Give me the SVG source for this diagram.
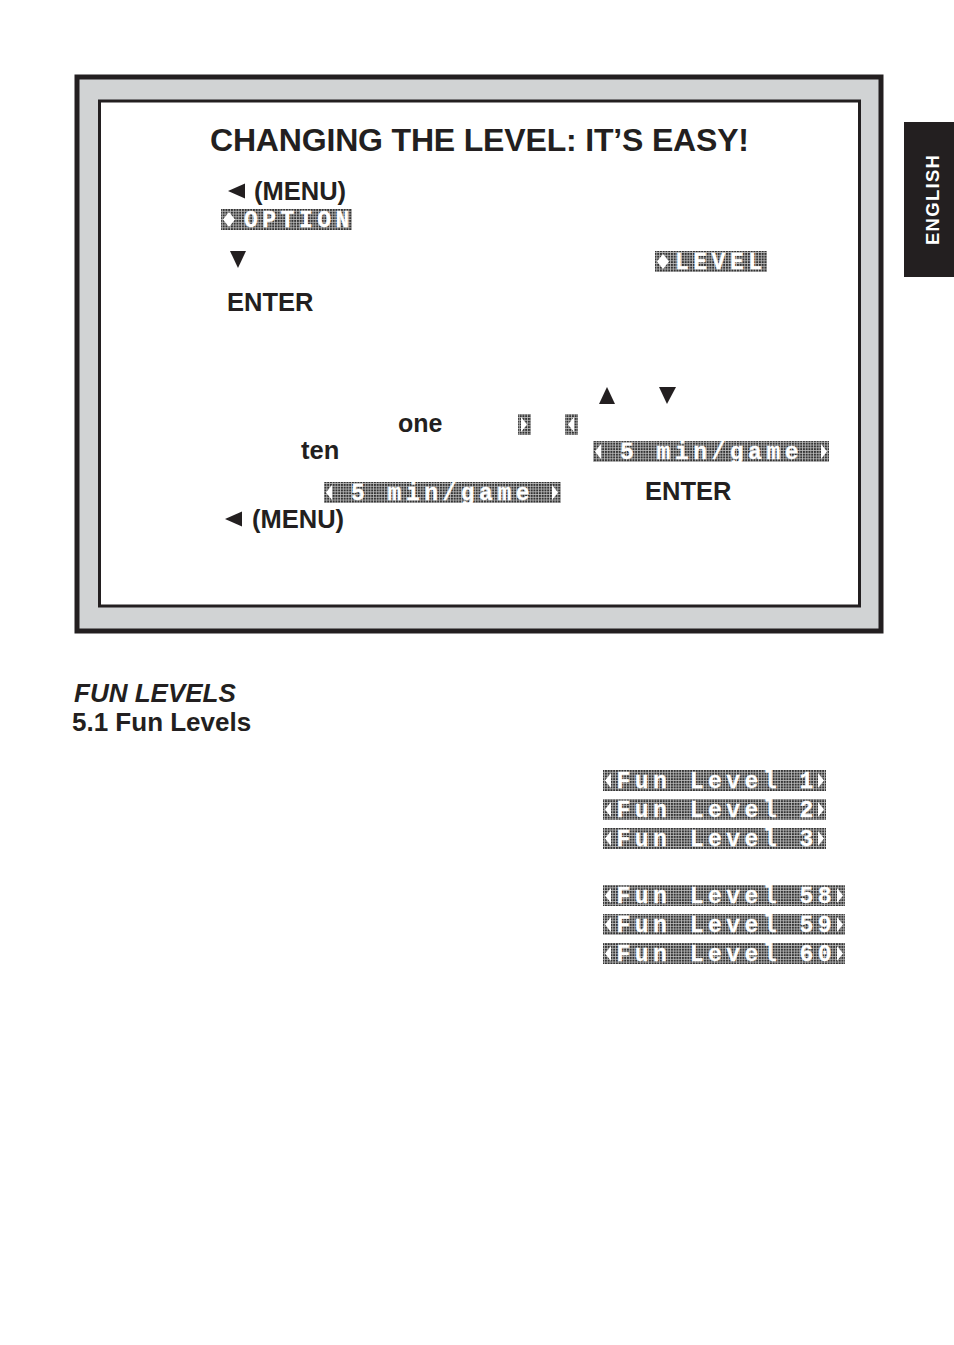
<svg xmlns="http://www.w3.org/2000/svg" width="954" height="1345" viewBox="0 0 954 1345">
<style>
.b{font-family:"Liberation Sans",Arial,sans-serif;font-weight:700;fill:#231f20}
.l{font-family:"Liberation Mono","DejaVu Sans Mono",monospace;font-weight:700;fill:#fff;stroke:#fff;stroke-width:.3;font-size:23px;letter-spacing:4.5px;white-space:pre}
.t{fill:#231f20}
.a{fill:#fff}
</style>
<defs>
<pattern id="g" width="2.75" height="2.75" patternUnits="userSpaceOnUse">
<rect width="2.75" height="2.75" fill="#c4c4c4"/>
<rect width="2" height="2" fill="#333"/>
</pattern>
</defs>
<rect width="954" height="1345" fill="#fff"/>
<g id="frame">
<rect x="77" y="77" width="804" height="554" fill="#d1d3d4" stroke="#231f20" stroke-width="5"/>
<rect x="99.500" y="101" width="760" height="505" fill="#fff" stroke="#231f20" stroke-width="3"/>
</g>
<g id="tab">
<rect x="904" y="122" width="50" height="155" fill="#231f20"/>
<text class="b" transform="translate(939,245) rotate(-90)" font-size="18.500" style="fill:#fff" textLength="90">ENGLISH</text>
</g>
<g id="heading">
<text class="b" x="210" y="151" font-size="32" textLength="539" lengthAdjust="spacing">CHANGING THE LEVEL: IT’S EASY!</text>
</g>
<g id="instructions">
<polygon class="t" points="228,191 245,183.500 245,198.500"/>
<text class="b" x="254" y="200" font-size="25.500">(MENU)</text>
<polygon class="t" points="230,251 246,251 238,268"/>
<text class="b" x="227" y="311" font-size="25.500">ENTER</text>
<polygon class="t" points="599,404 615,404 607,387"/>
<polygon class="t" points="659,387 676,387 667,404"/>
<text class="b" x="398" y="432" font-size="25">one</text>
<text class="b" x="301" y="459" font-size="25.500">ten</text>
<text class="b" x="645" y="500" font-size="25.500">ENTER</text>
<polygon class="t" points="225,519 242,511.500 242,526.500"/>
<text class="b" x="252" y="528" font-size="25.500">(MENU)</text>
</g>
<g id="lcd-option">
<rect x="221" y="209" width="131" height="21" fill="url(#g)"/>
<polygon class="a" points="223,219.500 229,212 235,219.500 229,227"/>
<text class="l" x="244" y="227">OPTION</text>
</g>
<g id="lcd-level">
<rect x="655" y="251" width="112" height="21" fill="url(#g)"/>
<polygon class="a" points="657,261.500 663,254 669,261.500 663,269"/>
<text class="l" x="675" y="269">LEVEL</text>
</g>
<g id="lcd-right">
<rect x="518" y="414" width="13" height="21" fill="url(#g)"/>
<polygon class="a" points="521,417 527,424.500 521,432"/>
</g>
<g id="lcd-left">
<rect x="565" y="414" width="13" height="21" fill="url(#g)"/>
<polygon class="a" points="574,417 568,424.500 574,432"/>
</g>
<g id="lcd-5min-a">
<rect x="593" y="441" width="236" height="21" fill="url(#g)"/>
<polygon class="a" points="601,444 595,451.500 601,459"/>
<polygon class="a" points="821,444 827,451.500 821,459"/>
<text class="l" x="620" y="459">5 min/game</text>
</g>
<g id="lcd-5min-b">
<rect x="324" y="482" width="237" height="21" fill="url(#g)"/>
<polygon class="a" points="332,485 326,492.500 332,500"/>
<polygon class="a" points="552,485 558,492.500 552,500"/>
<text class="l" x="351" y="500">5 min/game</text>
</g>
<g id="section">
<text class="b" x="74" y="702" font-size="26" font-style="italic">FUN LEVELS</text>
<text class="b" x="72" y="731" font-size="26">5.1 Fun Levels</text>
</g>
<g id="lcd-fun-1">
<rect x="603" y="770" width="223" height="21" fill="url(#g)"/>
<polygon class="a" points="611,773 605,780.500 611,788"/>
<polygon class="a" points="818,773 824,780.500 818,788"/>
<text class="l" x="616.500" y="788">Fun Level 1</text>
</g>
<g id="lcd-fun-2">
<rect x="603" y="799" width="223" height="21" fill="url(#g)"/>
<polygon class="a" points="611,802 605,809.500 611,817"/>
<polygon class="a" points="818,802 824,809.500 818,817"/>
<text class="l" x="616.500" y="817">Fun Level 2</text>
</g>
<g id="lcd-fun-3">
<rect x="603" y="828" width="223" height="21" fill="url(#g)"/>
<polygon class="a" points="611,831 605,838.500 611,846"/>
<polygon class="a" points="818,831 824,838.500 818,846"/>
<text class="l" x="616.500" y="846">Fun Level 3</text>
</g>
<g id="lcd-fun-58">
<rect x="603" y="885" width="242" height="21" fill="url(#g)"/>
<polygon class="a" points="611,888 605,895.500 611,903"/>
<polygon class="a" points="837,888 843,895.500 837,903"/>
<text class="l" x="616.500" y="903">Fun Level 58</text>
</g>
<g id="lcd-fun-59">
<rect x="603" y="914" width="242" height="21" fill="url(#g)"/>
<polygon class="a" points="611,917 605,924.500 611,932"/>
<polygon class="a" points="837,917 843,924.500 837,932"/>
<text class="l" x="616.500" y="932">Fun Level 59</text>
</g>
<g id="lcd-fun-60">
<rect x="603" y="943" width="242" height="21" fill="url(#g)"/>
<polygon class="a" points="611,946 605,953.500 611,961"/>
<polygon class="a" points="837,946 843,953.500 837,961"/>
<text class="l" x="616.500" y="961">Fun Level 60</text>
</g>
</svg>
